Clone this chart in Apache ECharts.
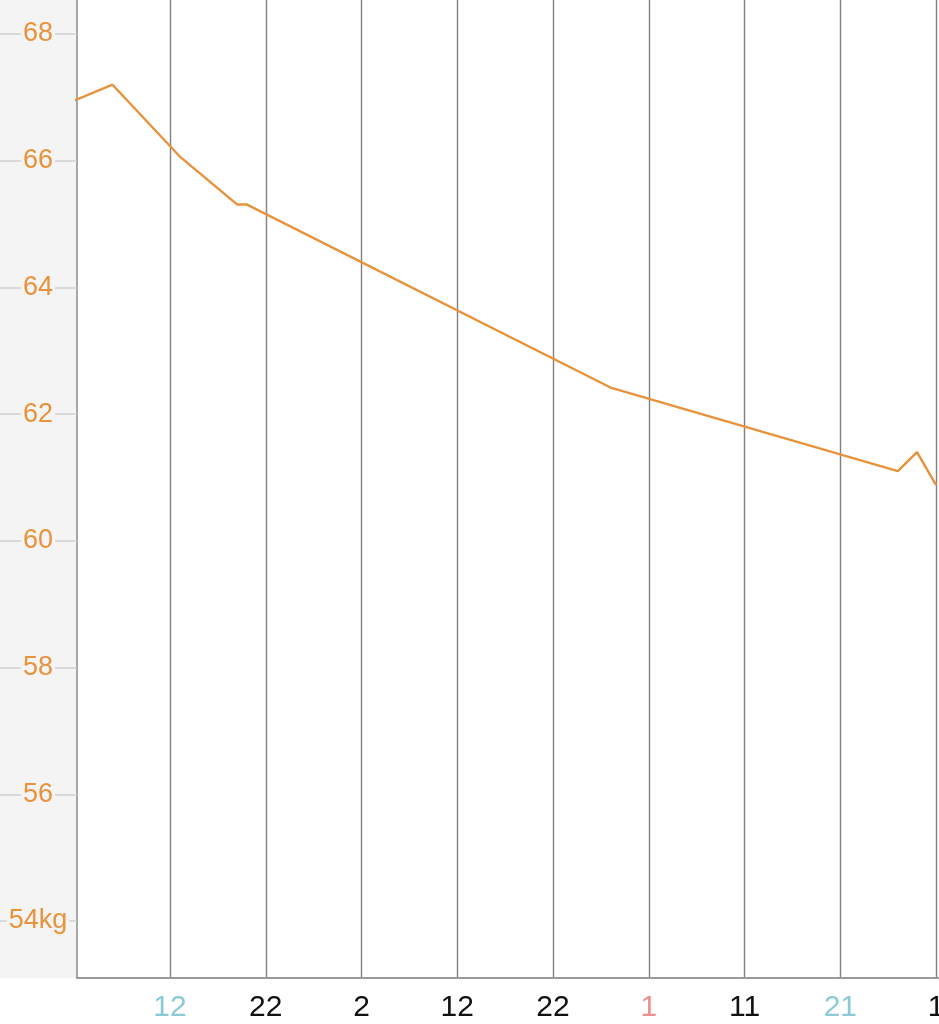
<!DOCTYPE html>
<html>
<head>
<meta charset="utf-8">
<script src="https://cdn.jsdelivr.net/npm/echarts@6/dist/echarts.min.js"></script>
<style>
html,body{margin:0;padding:0;background:#fff;}
#chart{width:939px;height:1024px;}
</style>
</head>
<body>
<div id="chart"></div>
<script>
// Day offsets (0 = the "12" tick) and recorded weights (kg)
const days    = [-10, -6, 1, 7, 8, 46, 76, 78, 80];
const weights = [66.95, 67.20, 66.07, 65.31, 65.31, 62.42, 61.10, 61.40, 60.88];

// X axis ticks: day offsets, day-of-month labels, weekday kind
const tickDays   = [0, 10, 20, 30, 40, 50, 60, 70, 80];
const tickLabels = ['12', '22', '2', '12', '22', '1', '11', '21', '1'];
const tickKinds  = ['sat', '', '', '', '', 'sun', '', 'sat', ''];

// Y axis ticks (kg)
const yTicks = [54, 56, 58, 60, 62, 64, 66, 68];

const kindColor = { sat: '#8ccad6', sun: '#ec8f8f', '': '#111111' };
const orange = '#e8923c';
const font = '"Liberation Sans", "DejaVu Sans", sans-serif';

const chart = echarts.init(document.getElementById('chart'), null, { renderer: 'canvas' });
chart.setOption({
  animation: false,
  backgroundColor: '#ffffff',
  graphic: [{
    type: 'rect', left: 0, top: 0, z: -10,
    shape: { width: 77, height: 978 },
    style: { fill: '#f4f4f4' }
  }],
  grid: { left: 77, right: 0, top: 0, bottom: 46, containLabel: false, outerBoundsMode: 'none' },
  xAxis: {
    type: 'value',
    min: -9.71,
    max: 80.3,
    axisLine: { show: true, onZero: false, lineStyle: { color: '#9a9a9a', width: 2 } },
    axisTick: { show: false, customValues: tickDays },
    splitLine: { show: true, lineStyle: { color: '#808080', width: 1.4 } },
    axisLabel: {
      customValues: tickDays,
      margin: 15,
      fontSize: 30,
      fontFamily: font,
      formatter: function (v) {
        const i = tickDays.indexOf(Math.round(v));
        if (i < 0) return '';
        const k = tickKinds[i] || 'n';
        return '{' + k + '|' + tickLabels[i] + '}';
      },
      rich: {
        sat: { color: kindColor.sat, fontSize: 30, fontFamily: font },
        sun: { color: kindColor.sun, fontSize: 30, fontFamily: font },
        n:   { color: kindColor[''], fontSize: 30, fontFamily: font }
      }
    }
  },
  yAxis: {
    type: 'value',
    min: 53.1,
    max: 68.537,
    axisLine: { show: true, onZero: false, lineStyle: { color: '#a8a8a8', width: 2 } },
    axisTick: { show: true, customValues: yTicks, length: 77, lineStyle: { color: '#cfcfcf', width: 1.5 } },
    splitLine: { show: false },
    axisLabel: {
      customValues: yTicks,
      margin: 39,
      align: 'center',
      fontSize: 27,
      fontFamily: font,
      color: orange,
      backgroundColor: '#f4f4f4',
      padding: [0, 2],
      formatter: function (v) { return Math.round(v) === 54 ? '54kg' : String(Math.round(v)); }
    }
  },
  series: [{
    type: 'line',
    data: days.map((d, i) => [d, weights[i]]),
    showSymbol: false,
    clip: true,
    lineStyle: { color: orange, width: 2.4 },
    itemStyle: { color: orange }
  }]
});
</script>
</body>
</html>
